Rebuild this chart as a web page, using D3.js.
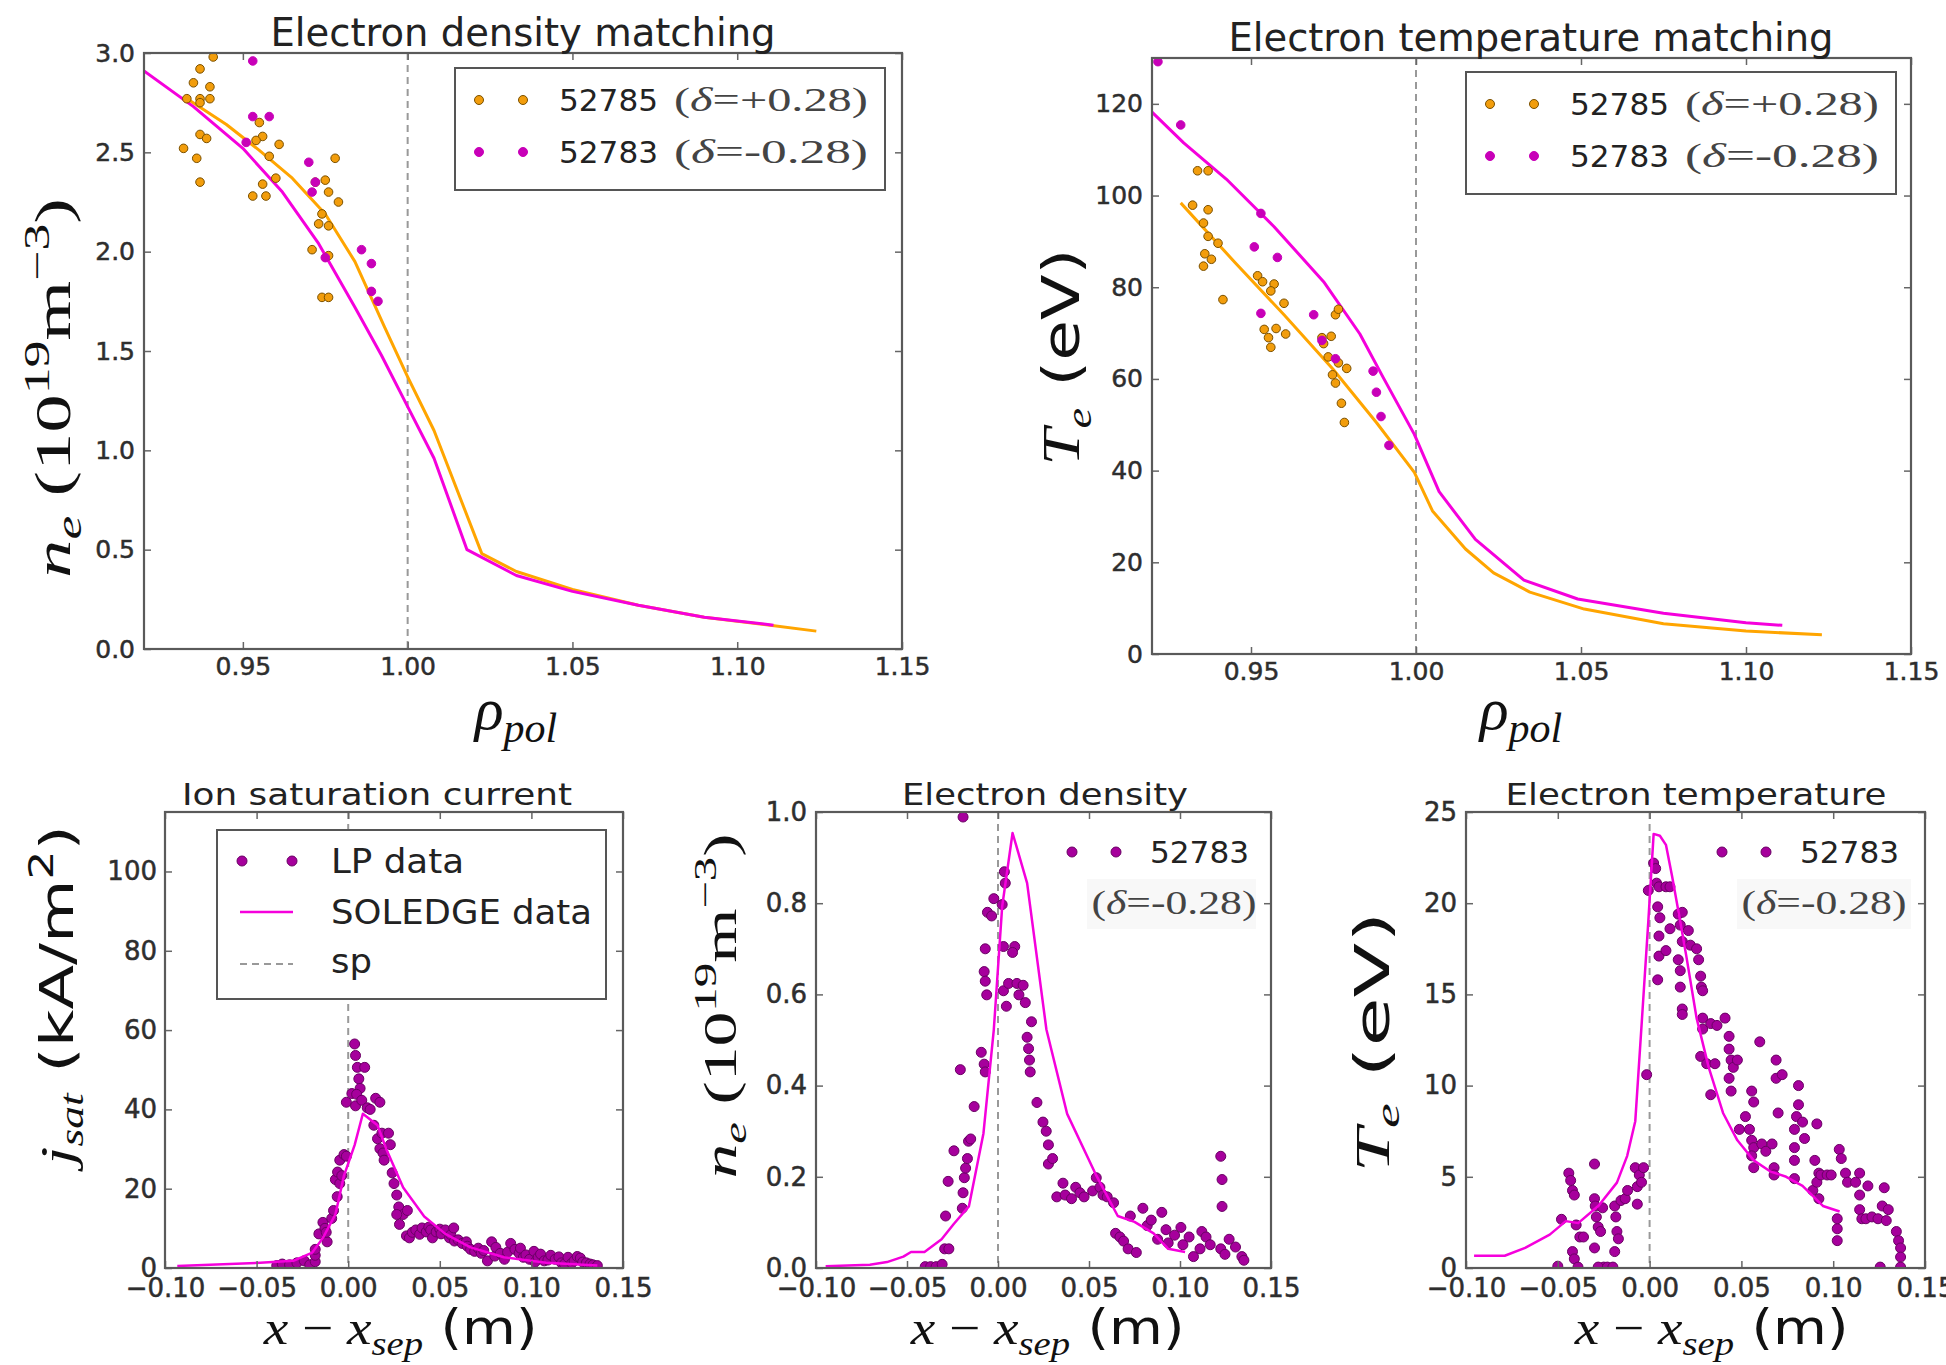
<!DOCTYPE html>
<html>
<head>
<meta charset="utf-8">
<script src="https://cdn.jsdelivr.net/npm/d3@7"></script>
<style>
  html, body { margin: 0; background: #fff; }
  text { white-space: pre; }
</style>
</head>
<body>
<div id="chart"></div>
<script>
const SANS = "'DejaVu Sans', sans-serif";
const SERIF = "'Liberation Serif', 'DejaVu Serif', serif";
const ORANGE = '#ffa500', ORANGE_DOT = '#f29d0c', ORANGE_EDGE = '#7a5000';
const MAGENTA = '#f500dc', MAGENTA_DOT = '#c800b8';
const LP_DOT = '#a6009c', LP_EDGE = '#6a0064';

// tick values
const rhoTicks = [0.95, 1.00, 1.05, 1.10, 1.15];
const neTopTicks = [0, 0.5, 1.0, 1.5, 2.0, 2.5, 3.0];
const teTopTicks = [0, 20, 40, 60, 80, 100, 120];
const xsepTicks = [-0.10, -0.05, 0, 0.05, 0.10, 0.15];
const jsatTicks = [0, 20, 40, 60, 80, 100];
const neBotTicks = [0, 0.2, 0.4, 0.6, 0.8, 1.0];
const teBotTicks = [0, 5, 10, 15, 20, 25];

// --- top left: density matching (rho_pol) ---
const neRho52785 = [0.934, 0.945, 0.955, 0.965, 0.975, 0.984, 0.993, 1.000, 1.008, 1.0225, 1.033, 1.05, 1.07, 1.09, 1.11, 1.124];
const neVal52785 = [2.76, 2.64, 2.51, 2.37, 2.19, 1.95, 1.62, 1.37, 1.10, 0.48, 0.39, 0.30, 0.22, 0.16, 0.12, 0.09];
const neRho52783 = [0.92, 0.935, 0.950, 0.962, 0.973, 0.984, 0.992, 1.000, 1.008, 1.018, 1.033, 1.05, 1.07, 1.09, 1.111];
const neVal52783 = [2.91, 2.73, 2.52, 2.30, 2.04, 1.72, 1.48, 1.22, 0.96, 0.50, 0.37, 0.29, 0.22, 0.16, 0.12];
const nePts52785 = [
  [0.941, 2.98], [0.937, 2.92], [0.935, 2.85], [0.940, 2.83], [0.933, 2.77], [0.937, 2.77], [0.940, 2.77],
  [0.937, 2.75], [0.932, 2.52], [0.936, 2.47], [0.937, 2.59], [0.939, 2.57], [0.937, 2.35],
  [0.955, 2.65], [0.956, 2.58], [0.954, 2.56], [0.958, 2.48], [0.961, 2.54], [0.956, 2.34],
  [0.953, 2.28], [0.957, 2.28], [0.960, 2.37], [0.972, 2.35], [0.975, 2.36], [0.976, 2.30],
  [0.978, 2.47], [0.979, 2.25], [0.974, 2.19], [0.973, 2.14], [0.976, 2.13], [0.971, 2.01],
  [0.976, 1.98], [0.974, 1.77], [0.976, 1.77]
];
const nePts52783 = [
  [0.953, 2.96], [0.953, 2.68], [0.958, 2.68], [0.951, 2.55], [0.970, 2.45], [0.971, 2.30],
  [0.972, 2.35], [0.975, 1.97], [0.986, 2.01], [0.989, 1.94], [0.989, 1.80], [0.991, 1.75]
];

// --- top right: temperature matching (rho_pol) ---
const teRho52785 = [0.9287, 0.945, 0.960, 0.975, 0.988, 0.9995, 1.005, 1.015, 1.0235, 1.0345, 1.051, 1.075, 1.10, 1.123];
const teVal52785 = [98.4, 85.5, 74, 62, 50.5, 39.6, 31.2, 22.9, 17.7, 13.5, 9.8, 6.6, 5.0, 4.2];
const teRho52783 = [0.92, 0.9296, 0.9425, 0.957, 0.972, 0.983, 0.990, 0.9995, 1.007, 1.018, 1.0327, 1.049, 1.075, 1.10, 1.111];
const teVal52783 = [118.2, 111.5, 103.6, 93.2, 81.2, 69.8, 60.4, 47.9, 35.4, 25, 16.1, 12, 8.9, 6.8, 6.25];
const tePts52785 = [
  [0.9323, 97.9], [0.9338, 105.4], [0.937, 105.4], [0.9356, 94.0], [0.937, 91.1], [0.937, 96.9],
  [0.940, 89.6], [0.936, 87.3], [0.938, 86.1], [0.9356, 84.6], [0.9415, 77.3], [0.952, 82.5],
  [0.9535, 81.2], [0.957, 80.7], [0.956, 79.2], [0.960, 76.5], [0.954, 70.8], [0.9576, 71.0],
  [0.9605, 69.8], [0.9553, 69.0], [0.956, 66.9], [0.9715, 69.0], [0.972, 67.7], [0.9743, 69.3],
  [0.9756, 74.0], [0.9765, 75.2], [0.9734, 64.8], [0.9765, 63.5], [0.9747, 60.9], [0.9756, 59.1],
  [0.979, 62.3], [0.9774, 54.7], [0.9783, 50.5]
];
const tePts52783 = [
  [0.9218, 129.2], [0.9287, 115.4], [0.953, 96.1], [0.951, 88.8], [0.958, 86.5], [0.953, 74.3],
  [0.969, 74.0], [0.9715, 68.4], [0.9756, 64.4], [0.987, 61.7], [0.988, 57.1], [0.9894, 51.8], [0.9918, 45.5]
];

// --- bottom left: ion saturation current ---
const jsatModelX = [-0.0933, -0.048, -0.030, -0.0196, -0.0138, -0.007, -0.0023, 0.0035, 0.008, 0.016, 0.0207, 0.030, 0.0415, 0.053, 0.0668, 0.085, 0.108, 0.136];
const jsatModelY = [0.5, 1.3, 1.8, 3.9, 7.6, 13.5, 23.3, 31, 38.9, 36, 30.1, 20.3, 13, 8.6, 5.2, 2.7, 1.3, 0.6];
const jsatLP = [
  [-0.039, 0.6], [-0.036, 1.0], [-0.032, 0.8], [-0.028, 1.3], [-0.024, 1.8], [-0.021, 0.8], [-0.018, 1.6],
  [-0.018, 3.2], [-0.018, 4.7], [-0.016, 8.6], [-0.0138, 11.5], [-0.0127, 10], [-0.0115, 6.6], [-0.012, 9],
  [-0.009, 12.5], [-0.008, 14.5], [-0.007, 22.3], [-0.006, 18], [-0.0058, 24.2], [-0.0046, 21.3],
  [-0.0035, 23.3], [-0.0046, 27.2], [-0.0023, 28.6], [-0.001, 28.2], [-0.001, 41.8], [0.002, 44],
  [0.0035, 56.5], [0.004, 53.6], [0.005, 50.6], [0.0058, 47.7], [0.0065, 45.3], [0.0046, 43.8],
  [0.004, 40.9], [0.009, 50.6], [0.0074, 42.3], [0.0104, 40.4], [0.012, 40], [0.014, 36], [0.015, 42.8],
  [0.0173, 41.8], [0.016, 32.6], [0.0173, 30.1], [0.0184, 34], [0.019, 29], [0.0196, 27.2], [0.022, 34],
  [0.023, 31.1], [0.024, 24], [0.025, 21.3], [0.0265, 18.4], [0.0276, 15.4], [0.028, 11], [0.030, 13.5],
  [0.0265, 13.5], [0.0323, 14.5], [0.0318, 8.1], [0.0334, 7.6], [0.035, 9.0], [0.0369, 9.6], [0.039, 8.5],
  [0.0403, 10.1], [0.0426, 9.1], [0.044, 10.3], [0.045, 9.6], [0.046, 7.6], [0.048, 9.1], [0.050, 9.8],
  [0.0507, 8.6], [0.053, 9.6], [0.0553, 7.6], [0.056, 8.4], [0.0576, 10.1], [0.058, 6.8], [0.060, 7.1],
  [0.0622, 6.2], [0.0645, 6.6], [0.065, 5.5], [0.0668, 4.7], [0.069, 4.2], [0.071, 5.0], [0.0726, 3.7],
  [0.074, 4.4], [0.076, 1.8], [0.0783, 6.6], [0.080, 3.0], [0.0806, 5.2], [0.083, 3.7], [0.0853, 2.2],
  [0.087, 4.0], [0.0887, 6.2], [0.091, 4.7], [0.0933, 3.7], [0.094, 5.0], [0.0956, 2.7], [0.097, 3.3],
  [0.099, 2.2], [0.1014, 4.2], [0.102, 1.5], [0.1037, 2.7], [0.105, 3.5], [0.107, 1.8], [0.109, 2.0],
  [0.1106, 3.2], [0.113, 2.2], [0.115, 2.8], [0.1164, 1.3], [0.118, 1.0], [0.12, 2.7], [0.122, 1.2],
  [0.1233, 1.8], [0.125, 2.9], [0.1267, 2.5], [0.128, 1.5], [0.130, 1.3], [0.132, 1.0], [0.1336, 0.8], [0.136, 0.6]
];

// --- bottom middle: electron density ---
const neModelX = [-0.0947, -0.0704, -0.061, -0.052, -0.0478, -0.0404, -0.031, -0.0242, -0.016, -0.008, -0.0023, 0.0023, 0.008, 0.016, 0.0266, 0.038, 0.054, 0.0658, 0.075, 0.0855, 0.0935, 0.1028];
const neModelY = [0.004, 0.007, 0.013, 0.025, 0.035, 0.035, 0.063, 0.097, 0.135, 0.295, 0.523, 0.793, 0.954, 0.844, 0.523, 0.338, 0.203, 0.114, 0.101, 0.076, 0.042, 0.035];
const neLP = [
  [-0.0192, 0.989], [-0.040, 0.003], [-0.037, 0.003], [-0.034, 0.003], [-0.0307, 0.008],
  [-0.0293, 0.042], [-0.027, 0.042], [-0.0288, 0.114], [-0.0274, 0.19], [-0.0242, 0.257], [-0.0207, 0.435],
  [-0.0196, 0.131], [-0.0192, 0.165], [-0.0185, 0.198], [-0.0178, 0.219], [-0.0168, 0.24], [-0.0162, 0.278],
  [-0.015, 0.283], [-0.0131, 0.354], [-0.0092, 0.473], [-0.0076, 0.447], [-0.007, 0.43], [-0.007, 0.70],
  [-0.0076, 0.65], [-0.007, 0.629], [-0.0062, 0.599], [-0.0058, 0.78], [-0.0035, 0.772], [-0.0023, 0.81],
  [0.0023, 0.797], [0.0035, 0.869], [0.004, 0.844], [0.003, 0.705], [0.003, 0.608], [0.0046, 0.574],
  [0.0058, 0.624], [0.0092, 0.705], [0.008, 0.692], [0.0104, 0.624], [0.0115, 0.599], [0.0138, 0.62],
  [0.015, 0.582], [0.016, 0.506], [0.0168, 0.481], [0.0173, 0.456], [0.0184, 0.54], [0.0177, 0.43],
  [0.0214, 0.363], [0.0247, 0.32], [0.0265, 0.30], [0.0277, 0.27], [0.0277, 0.228], [0.03, 0.24],
  [0.0323, 0.156], [0.0357, 0.186], [0.0369, 0.16], [0.0404, 0.152], [0.0427, 0.177], [0.045, 0.165],
  [0.0473, 0.156], [0.052, 0.169], [0.054, 0.198], [0.056, 0.177], [0.0577, 0.16], [0.060, 0.156],
  [0.0635, 0.143], [0.0646, 0.076], [0.067, 0.068], [0.069, 0.059], [0.0715, 0.042], [0.0727, 0.114],
  [0.076, 0.034], [0.0796, 0.131], [0.082, 0.093], [0.0842, 0.105], [0.0877, 0.063], [0.090, 0.122],
  [0.0923, 0.084], [0.0935, 0.055], [0.097, 0.072], [0.1005, 0.089], [0.1016, 0.051], [0.105, 0.068],
  [0.1074, 0.025], [0.111, 0.042], [0.112, 0.08], [0.1143, 0.068], [0.1166, 0.051], [0.1224, 0.245],
  [0.1231, 0.194], [0.1231, 0.135], [0.1224, 0.042], [0.1247, 0.03], [0.127, 0.063], [0.1305, 0.046],
  [0.134, 0.025], [0.1351, 0.017]
];

// --- bottom right: electron temperature ---
const teModelX = [-0.0956, -0.0789, -0.0678, -0.0544, -0.0456, -0.0389, -0.0278, -0.0178, -0.0122, -0.0078, -0.0038, -0.0007, 0.0022, 0.0056, 0.0089, 0.0122, 0.0167, 0.02, 0.0256, 0.0322, 0.04, 0.0478, 0.0567, 0.0656, 0.0744, 0.0833, 0.0944, 0.1035];
const teModelY = [0.67, 0.67, 1.1, 1.83, 2.57, 2.46, 3.41, 4.68, 6.15, 8.05, 14.2, 19, 23.8, 23.7, 23.2, 21.5, 19, 17.1, 13.7, 11, 8.5, 7.0, 5.9, 5.3, 5.0, 4.5, 3.4, 3.1];
const teLP = [
  [-0.048, 2.67], [-0.044, 5.2], [-0.043, 4.8], [-0.042, 4.25], [-0.041, 4.0], [-0.05, 0.1], [-0.042, 0.9],
  [-0.041, 0.5], [-0.039, 0.05], [-0.04, 2.36], [-0.038, 1.7], [-0.036, 1.7], [-0.030, 5.7], [-0.030, 3.8],
  [-0.0296, 3.4], [-0.029, 2.8], [-0.028, 2.25], [-0.030, 1.1], [-0.0267, 2.0], [-0.0256, 3.3],
  [-0.025, 0.05], [-0.028, 0.05], [-0.023, 0.05], [-0.02, 0.05], [-0.019, 0.9], [-0.019, 3.4],
  [-0.0184, 2.8], [-0.0178, 2.0], [-0.017, 1.6], [-0.0156, 3.7], [-0.0133, 3.8], [-0.012, 4.25],
  [-0.0078, 5.5], [-0.0067, 4.46], [-0.0056, 5.1], [-0.0044, 4.7], [-0.0033, 5.5], [-0.0067, 3.5],
  [-0.0016, 10.6], [-0.0007, 20.7], [0.0022, 22.2], [0.0033, 21.9], [0.0038, 21.1], [0.0051, 20.9],
  [0.0044, 19.8], [0.0056, 19.2], [0.0051, 18.2], [0.0051, 17.1], [0.0044, 15.8], [0.0089, 20.9],
  [0.0111, 20.9], [0.0111, 18.6], [0.0089, 17.4], [0.0156, 19.4], [0.0178, 19.5], [0.0167, 18.8],
  [0.0178, 17.9], [0.0156, 16.9], [0.0167, 16.3], [0.0167, 15.4], [0.0178, 14.2], [0.0178, 13.9],
  [0.0211, 18.5], [0.0222, 17.7], [0.0256, 17.5], [0.0267, 16.9], [0.0278, 16.0], [0.0282, 15.4],
  [0.0289, 15.2], [0.0289, 13.7], [0.0289, 13.1], [0.0278, 11.6], [0.0311, 11.2], [0.0333, 13.4],
  [0.0367, 13.3], [0.0411, 13.7], [0.0356, 11.2], [0.0333, 9.5], [0.0433, 12.7], [0.0433, 12.0],
  [0.0444, 11.4], [0.0456, 11.0], [0.0433, 10.4], [0.0444, 9.7], [0.0478, 11.4], [0.0489, 7.6],
  [0.0522, 8.3], [0.0544, 7.6], [0.0556, 7.0], [0.0567, 6.6], [0.0567, 5.5], [0.0556, 6.15],
  [0.0556, 9.7], [0.0567, 9.1], [0.06, 12.4], [0.0611, 6.8], [0.0633, 6.4], [0.0667, 6.8],
  [0.0678, 5.5], [0.0678, 5.1], [0.0689, 11.4], [0.0689, 10.4], [0.07, 8.5], [0.0722, 10.6],
  [0.0789, 7.6], [0.0789, 6.6], [0.0789, 5.9], [0.0789, 4.9], [0.08, 8.3], [0.0811, 10.0],
  [0.0811, 8.95], [0.0833, 8.0], [0.0844, 7.1], [0.09, 5.9], [0.0911, 7.9], [0.0922, 5.2],
  [0.0889, 4.25], [0.0911, 4.7], [0.0922, 3.8], [0.0933, 5.1], [0.0967, 5.1], [0.0989, 5.1],
  [0.1022, 2.7], [0.1022, 2.15], [0.1022, 1.5], [0.1033, 6.5], [0.1044, 6.0], [0.1067, 5.2],
  [0.1078, 4.7], [0.1122, 4.7], [0.1144, 5.2], [0.1144, 4.0], [0.1144, 3.2], [0.1156, 2.7],
  [0.1178, 2.7], [0.1189, 4.5], [0.1211, 2.8], [0.1244, 2.7], [0.1267, 3.4], [0.1278, 4.4],
  [0.1289, 2.6], [0.13, 3.2], [0.1256, 0.05], [0.1344, 2.0], [0.1356, 1.5], [0.1367, 1.1],
  [0.1367, 0.6], [0.1367, 0.05]
];

const zip = (xs, ys) => xs.map((v, i) => [v, ys[i]]);

const svg = d3.select('#chart').append('svg')
  .attr('width', 1946).attr('height', 1365)
  .style('display', 'block');

let clipId = 0;

// one axes box, matplotlib classic look: inward ticks on all sides, grey frame
function makePanel(box, xDom, yDom, xTicks, yTicks, xFmt, yFmt, fs, xPad, yPad) {
  const w = box.right - box.left, h = box.bottom - box.top;
  const g = svg.append('g').attr('transform', `translate(${box.left},${box.top})`);
  const x = d3.scaleLinear().domain(xDom).range([0, w]);
  const y = d3.scaleLinear().domain(yDom).range([h, 0]);

  const id = 'clip' + (clipId++);
  g.append('clipPath').attr('id', id).append('rect').attr('width', w).attr('height', h);
  const plot = g.append('g').attr('clip-path', `url(#${id})`);

  const styleAxis = sel => {
    sel.select('.domain').remove();
    sel.selectAll('line').attr('stroke', '#666').attr('stroke-width', 1.5);
    sel.selectAll('text').attr('fill', '#2e2e2e').attr('stroke', '#2e2e2e').attr('stroke-width', 0.5)
      .attr('font-family', SANS).attr('font-size', fs);
  };
  g.append('g').attr('transform', `translate(0,${h})`)
    .call(d3.axisBottom(x).tickValues(xTicks).tickSizeInner(-7).tickSizeOuter(0).tickPadding(xPad).tickFormat(xFmt))
    .call(styleAxis);
  g.append('g')
    .call(d3.axisTop(x).tickValues(xTicks).tickSizeInner(-7).tickSizeOuter(0).tickFormat(''))
    .call(styleAxis);
  g.append('g')
    .call(d3.axisLeft(y).tickValues(yTicks).tickSizeInner(-7).tickSizeOuter(0).tickPadding(yPad).tickFormat(yFmt))
    .call(styleAxis);
  g.append('g').attr('transform', `translate(${w},0)`)
    .call(d3.axisRight(y).tickValues(yTicks).tickSizeInner(-7).tickSizeOuter(0).tickFormat(''))
    .call(styleAxis);

  return { g, plot, x, y, w, h };
}

function frame(p) {
  p.g.append('rect').attr('width', p.w).attr('height', p.h)
    .attr('fill', 'none').attr('stroke', '#5a5a5a').attr('stroke-width', 2.2);
}

function sepLine(p, xv) {
  p.plot.append('line')
    .attr('x1', p.x(xv)).attr('x2', p.x(xv)).attr('y1', 0).attr('y2', p.h)
    .attr('stroke', '#999').attr('stroke-width', 2).attr('stroke-dasharray', '7,5');
}

function curve(p, pts, color, width) {
  const line = d3.line().x(d => p.x(d[0])).y(d => p.y(d[1]));
  p.plot.append('path').attr('d', line(pts))
    .attr('fill', 'none').attr('stroke', color).attr('stroke-width', width)
    .attr('stroke-linejoin', 'round');
}

function dots(p, pts, r, fill, edge) {
  p.plot.append('g').selectAll('circle').data(pts).join('circle')
    .attr('cx', d => p.x(d[0])).attr('cy', d => p.y(d[1])).attr('r', r)
    .attr('fill', fill).attr('stroke', edge).attr('stroke-width', 1);
}

// text with italic / sub / sup pieces
function richText(parent, parts, size, fill = '#111') {
  const t = parent.append('text').attr('font-size', size).attr('fill', fill);
  let cur = 0;
  parts.forEach(([str, o = {}]) => {
    const small = o.sub || o.sup;
    const off = o.sub ? size * 0.22 : o.sup ? -size * 0.42 : 0;
    t.append('tspan')
      .attr('font-family', o.sans ? SANS : SERIF)
      .attr('font-style', o.it ? 'italic' : 'normal')
      .attr('font-size', small ? size * 0.7 : size)
      .attr('dy', off - cur)
      .text(str);
    cur = off;
  });
  return t;
}

// rotate a label and stretch it to the given length along its reading direction
function fitV(t, cx, cy, len) {
  const b = t.node().getBBox();
  const s = len / b.width;
  t.attr('transform', `translate(${cx},${cy}) rotate(-90) scale(${s},1) translate(${-(b.x + b.width / 2)},${-(b.y + b.height / 2)})`);
}
function fitH(t, cx, baseline, len) {
  const b = t.node().getBBox();
  const s = len ? len / b.width : 1;
  t.attr('transform', `translate(${cx},${baseline}) scale(${s},1) translate(${-(b.x + b.width / 2)},0)`);
}

function title(txt, cx, baseline, size, len) {
  svg.append('text').attr('x', cx).attr('y', baseline)
    .attr('text-anchor', 'middle').attr('font-family', SANS).attr('font-size', size)
    .attr('fill', '#222').attr('textLength', len).attr('lengthAdjust', 'spacingAndGlyphs')
    .text(txt);
}

function legendText(parent, s, x, y, size, len) {
  parent.append('text').attr('x', x).attr('y', y).attr('font-family', SANS)
    .attr('font-size', size).attr('fill', '#222')
    .attr('textLength', len).attr('lengthAdjust', 'spacingAndGlyphs').text(s);
}

const f2 = d3.format('.2f'), f1 = d3.format('.1f'), fd = d3.format('d');

// ===== panel A =====
const A = makePanel({ left: 144, right: 902, top: 53, bottom: 649 }, [0.92, 1.15], [0, 3.0],
  rhoTicks, neTopTicks, f2, f1, 25, 8, 9);
sepLine(A, 1.0);
curve(A, zip(neRho52785, neVal52785), ORANGE, 3);
curve(A, zip(neRho52783, neVal52783), MAGENTA, 3);
dots(A, nePts52785, 4.3, ORANGE_DOT, ORANGE_EDGE);
dots(A, nePts52783, 4.3, MAGENTA_DOT, MAGENTA_DOT);
frame(A);

// ===== panel B =====
const B = makePanel({ left: 1152, right: 1911, top: 58, bottom: 654 }, [0.92, 1.15], [0, 130],
  rhoTicks, teTopTicks, f2, fd, 25, 8, 9);
sepLine(B, 1.0);
curve(B, zip(teRho52785, teVal52785), ORANGE, 3);
curve(B, zip(teRho52783, teVal52783), MAGENTA, 3);
dots(B, tePts52785, 4.3, ORANGE_DOT, ORANGE_EDGE);
dots(B, tePts52783, 4.3, MAGENTA_DOT, MAGENTA_DOT);
frame(B);

// legends of the matching plots
function matchLegend(p, dx, dy) {
  const lg = p.g.append('g').attr('transform', `translate(${dx},${dy})`);
  lg.append('rect').attr('width', 430).attr('height', 122)
    .attr('fill', '#fff').attr('stroke', '#555').attr('stroke-width', 2);
  const rows = [
    { y: 32, fill: ORANGE_DOT, edge: ORANGE_EDGE, id: '52785', d: '=+0.28)' },
    { y: 84, fill: MAGENTA_DOT, edge: MAGENTA_DOT, id: '52783', d: '=-0.28)' }
  ];
  rows.forEach(r => {
    [24, 68].forEach(mx => lg.append('circle').attr('cx', mx).attr('cy', r.y).attr('r', 4.5)
      .attr('fill', r.fill).attr('stroke', r.edge).attr('stroke-width', 1));
    legendText(lg, r.id, 104, r.y + 11, 31, 99);
    const t = richText(lg, [['('], ['δ', { it: true }], [r.d]], 34, '#444');
    fitH(t, 219 + 97, r.y + 11, 194);
  });
}
matchLegend(A, 311, 15);
matchLegend(B, 314, 14);

title('Electron density matching', 523, 46, 39, 505);
title('Electron temperature matching', 1531, 51, 39, 605);

// axis labels of top row
fitV(richText(svg, [['n', { it: true }], ['e', { it: true, sub: true }], [' (10'], ['19', { sup: true }], ['m'], ['−3', { sup: true }], [')']], 50), 53, 388, 380);
fitV(richText(svg, [['T', { it: true }], ['e', { it: true, sub: true }], [' (eV)', { sans: true }]], 52), 1065, 357, 217);
fitH(richText(svg, [['ρ', { it: true }], ['pol', { it: true, sub: true }]], 60), 515, 729);
fitH(richText(svg, [['ρ', { it: true }], ['pol', { it: true, sub: true }]], 60), 1520, 729);

// ===== panel C =====
const C = makePanel({ left: 165, right: 623, top: 812, bottom: 1268 }, [-0.10, 0.15], [0, 115],
  xsepTicks, jsatTicks, f2, fd, 26, 11, 8);
sepLine(C, 0);
dots(C, jsatLP, 5, LP_DOT, LP_EDGE);
curve(C, zip(jsatModelX, jsatModelY), MAGENTA, 2.5);
frame(C);
{
  const lg = C.g.append('g').attr('transform', 'translate(52,18)');
  lg.append('rect').attr('width', 389).attr('height', 169)
    .attr('fill', '#fff').attr('stroke', '#555').attr('stroke-width', 2);
  [25, 75].forEach(mx => lg.append('circle').attr('cx', mx).attr('cy', 31).attr('r', 5)
    .attr('fill', LP_DOT).attr('stroke', LP_EDGE));
  lg.append('line').attr('x1', 23).attr('x2', 76).attr('y1', 82).attr('y2', 82)
    .attr('stroke', MAGENTA).attr('stroke-width', 2.5);
  lg.append('line').attr('x1', 23).attr('x2', 76).attr('y1', 134).attr('y2', 134)
    .attr('stroke', '#999').attr('stroke-width', 2).attr('stroke-dasharray', '7,5');
  legendText(lg, 'LP data', 114, 43, 33, 133);
  legendText(lg, 'SOLEDGE data', 114, 94, 33, 261);
  legendText(lg, 'sp', 114, 143, 33, 41);
}

// ===== panel D =====
const D = makePanel({ left: 816, right: 1271, top: 812, bottom: 1268 }, [-0.10, 0.15], [0, 1.0],
  xsepTicks, neBotTicks, f2, f1, 26, 11, 9);
sepLine(D, 0);
dots(D, neLP, 5, LP_DOT, LP_EDGE);
curve(D, zip(neModelX, neModelY), MAGENTA, 2.5);
frame(D);

// ===== panel E =====
const E = makePanel({ left: 1466, right: 1925, top: 812, bottom: 1268 }, [-0.10, 0.15], [0, 25],
  xsepTicks, teBotTicks, f2, fd, 26, 11, 9);
sepLine(E, 0);
dots(E, teLP, 5, LP_DOT, LP_EDGE);
curve(E, zip(teModelX, teModelY), MAGENTA, 2.5);
frame(E);

function shotLegend(p, bgW) {
  const lg = p.g.append('g');
  [256, 300].forEach(mx => lg.append('circle').attr('cx', mx).attr('cy', 40).attr('r', 5)
    .attr('fill', LP_DOT).attr('stroke', LP_EDGE));
  legendText(lg, '52783', 334, 51, 31, 99);
  lg.append('rect').attr('x', 271).attr('y', 67).attr('width', bgW).attr('height', 50).attr('fill', '#f8f8f8');
  const t = richText(lg, [['('], ['δ', { it: true }], ['=-0.28)']], 34, '#444');
  fitH(t, 275 + 83, 102, 165);
}
shotLegend(D, 169);
shotLegend(E, 174);

title('Ion saturation current', 377, 805, 30, 390);
title('Electron density', 1045, 805, 30, 286);
title('Electron temperature', 1696, 805, 30, 381);

// axis labels of bottom row
const xsepParts = [['x', { it: true }], [' − '], ['x', { it: true }], ['sep', { it: true, sub: true }], [' (m)', { sans: true }]];
fitH(richText(svg, xsepParts, 48), 400, 1344, 275);
fitH(richText(svg, xsepParts, 48), 1047, 1344, 275);
fitH(richText(svg, xsepParts, 48), 1711, 1344, 275);
fitV(richText(svg, [['j', { it: true }], ['sat', { it: true, sub: true }], [' (kA/m', { sans: true }], ['2', { sup: true, sans: true }], [')', { sans: true }]], 47), 56, 999, 348);
fitV(richText(svg, [['n', { it: true }], ['e', { it: true, sub: true }], [' (10'], ['19', { sup: true }], ['m'], ['−3', { sup: true }], [')']], 46), 720, 1006, 345);
fitV(richText(svg, [['T', { it: true }], ['e', { it: true, sub: true }], [' (eV)', { sans: true }]], 48), 1375, 1042, 261);
</script>
</body>
</html>
